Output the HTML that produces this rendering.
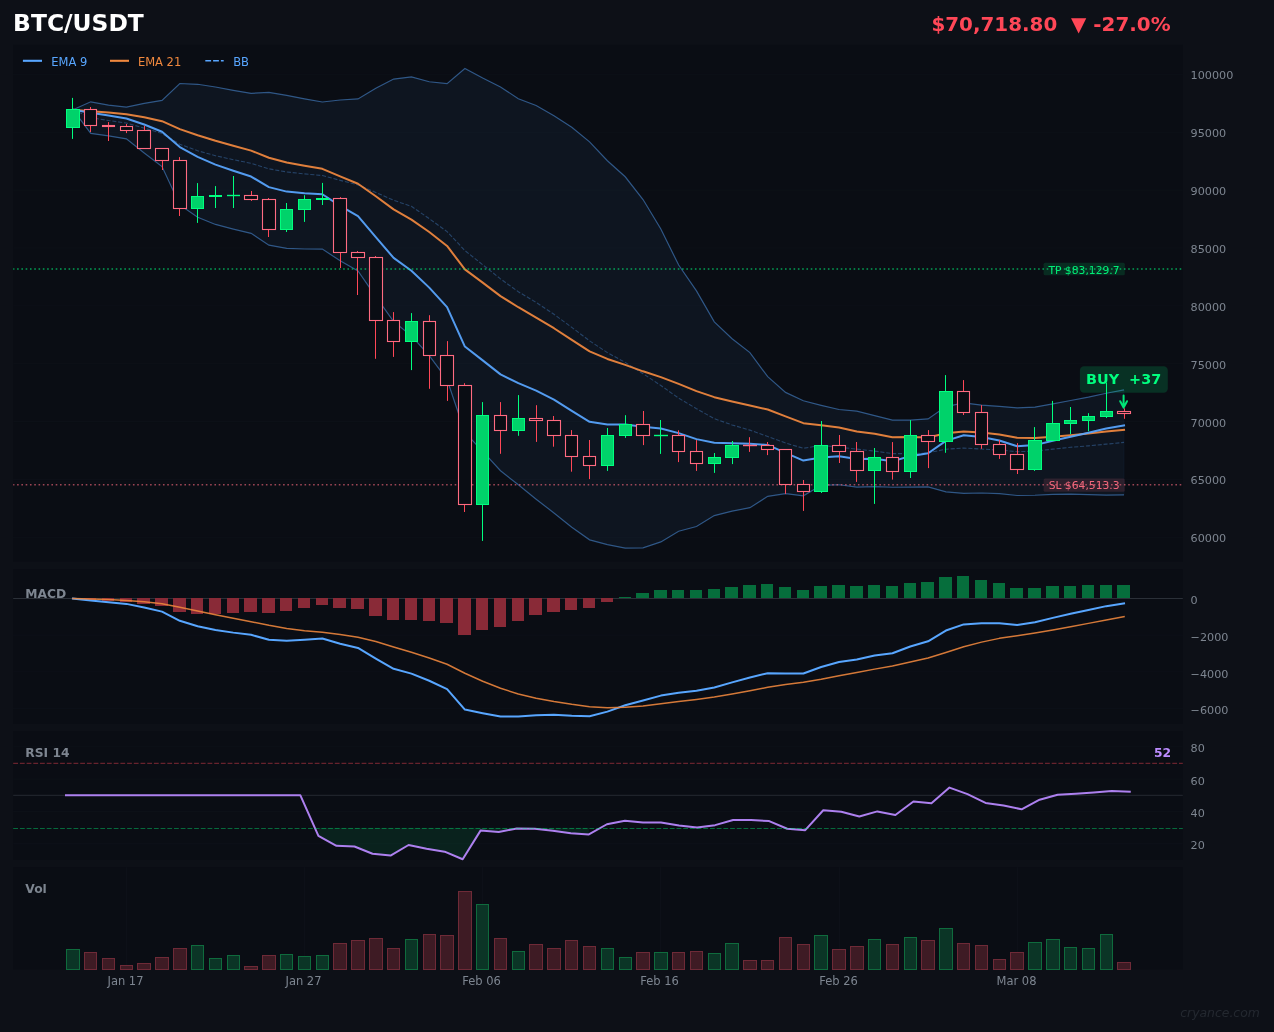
<!DOCTYPE html>
<html><head><meta charset="utf-8"><title>BTC/USDT</title>
<style>html,body{margin:0;padding:0;background:#0d1017;} svg{display:block} text{font-family:"DejaVu Sans","Liberation Sans",sans-serif}</style>
</head><body>
<svg width="1274" height="1032" viewBox="0 0 1274 1032">
<rect x="0" y="0" width="1274" height="1032" fill="#0d1017"/>
<rect x="13.2" y="44.9" width="1169.6" height="516.7" fill="#0a0d14"/>
<rect x="13.2" y="569.1" width="1169.6" height="154.9" fill="#0a0d14"/>
<rect x="13.2" y="731.2" width="1169.6" height="128.6" fill="#0a0d14"/>
<rect x="13.2" y="867.1" width="1169.6" height="102.3" fill="#0a0d14"/>
<line x1="13.2" x2="1182.8" y1="537.4" y2="537.4" stroke="#0e1219" stroke-width="0.8"/>
<line x1="1017.5" x2="1017.5" y1="867.1" y2="969.4" stroke="#0e1219" stroke-width="0.8"/>
<line x1="839.5" x2="839.5" y1="867.1" y2="969.4" stroke="#0e1219" stroke-width="0.8"/>
<line x1="660.5" x2="660.5" y1="867.1" y2="969.4" stroke="#0e1219" stroke-width="0.8"/>
<line x1="482.5" x2="482.5" y1="867.1" y2="969.4" stroke="#0e1219" stroke-width="0.8"/>
<line x1="304.5" x2="304.5" y1="867.1" y2="969.4" stroke="#0e1219" stroke-width="0.8"/>
<line x1="126.5" x2="126.5" y1="867.1" y2="969.4" stroke="#0e1219" stroke-width="0.8"/>
<line x1="13.2" x2="1182.8" y1="479.53" y2="479.53" stroke="#0e1219" stroke-width="0.8"/>
<line x1="13.2" x2="1182.8" y1="421.65" y2="421.65" stroke="#0e1219" stroke-width="0.8"/>
<line x1="13.2" x2="1182.8" y1="363.78" y2="363.78" stroke="#0e1219" stroke-width="0.8"/>
<line x1="13.2" x2="1182.8" y1="305.9" y2="305.9" stroke="#0e1219" stroke-width="0.8"/>
<line x1="13.2" x2="1182.8" y1="248.03" y2="248.03" stroke="#0e1219" stroke-width="0.8"/>
<line x1="13.2" x2="1182.8" y1="190.15" y2="190.15" stroke="#0e1219" stroke-width="0.8"/>
<line x1="13.2" x2="1182.8" y1="132.28" y2="132.28" stroke="#0e1219" stroke-width="0.8"/>
<line x1="13.2" x2="1182.8" y1="74.4" y2="74.4" stroke="#0e1219" stroke-width="0.8"/>
<polygon points="72.94,109.7 90.76,101.8 108.57,105.19 126.39,107.19 144.2,103.33 162.02,100.43 179.83,83.51 197.65,84.28 215.46,87.01 233.28,90.3 251.09,93.3 268.91,92.47 286.73,95.46 304.54,98.86 322.36,102.01 340.17,99.99 357.99,98.9 375.8,88.31 393.62,79.06 411.43,76.87 429.25,81.74 447.07,83.67 464.88,68.58 482.7,78.08 500.51,86.94 518.33,98.71 536.14,105.54 553.96,115.65 571.77,127.35 589.59,141.85 607.4,160.7 625.22,176.77 643.04,199.53 660.85,229.06 678.67,265.06 696.48,290.87 714.3,321.83 732.11,338.69 749.93,352.59 767.74,376.7 785.56,392.39 803.38,400.8 821.19,405.36 839.01,409.52 856.82,411.07 874.64,415.57 892.45,420.04 910.27,420.07 928.08,418.93 945.9,406.56 963.71,402.84 981.53,405.09 999.35,406.45 1017.16,407.9 1034.98,407.05 1052.79,403.85 1070.61,400.52 1088.42,397.18 1106.24,393.24 1124.05,389.79 1124.05,494.92 1106.24,495.08 1088.42,494.54 1070.61,494.09 1052.79,494.46 1034.98,495.23 1017.16,495.51 999.35,493.57 981.53,493.01 963.71,493.28 945.9,491.85 928.08,486.87 910.27,487.22 892.45,487.24 874.64,486.61 856.82,487.21 839.01,484.76 821.19,485.33 803.38,495.77 785.56,493.57 767.74,496.36 749.93,507.7 732.11,511.18 714.3,515.55 696.48,526.49 678.67,531.24 660.85,541.94 643.04,547.87 625.22,548.04 607.4,544.6 589.59,539.86 571.77,527.34 553.96,512.96 536.14,499.18 518.33,484.81 500.51,470.77 482.7,451.45 464.88,432.45 447.07,379.59 429.25,355.53 411.43,335.82 393.62,321.48 375.8,296.56 357.99,270.91 340.17,260.76 322.36,249.1 304.54,248.98 286.73,248.44 268.91,245.18 251.09,233.33 233.28,229.08 215.46,224.44 197.65,217.21 179.83,204.92 162.02,166.6 144.2,152.91 126.39,138.89 108.57,135.91 90.76,133.4 72.94,109.7" fill="#58a6ff" fill-opacity="0.055" stroke="#58a6ff" stroke-opacity="0.05" stroke-width="1"/>
<polyline points="72.94,109.7 90.76,101.8 108.57,105.19 126.39,107.19 144.2,103.33 162.02,100.43 179.83,83.51 197.65,84.28 215.46,87.01 233.28,90.3 251.09,93.3 268.91,92.47 286.73,95.46 304.54,98.86 322.36,102.01 340.17,99.99 357.99,98.9 375.8,88.31 393.62,79.06 411.43,76.87 429.25,81.74 447.07,83.67 464.88,68.58 482.7,78.08 500.51,86.94 518.33,98.71 536.14,105.54 553.96,115.65 571.77,127.35 589.59,141.85 607.4,160.7 625.22,176.77 643.04,199.53 660.85,229.06 678.67,265.06 696.48,290.87 714.3,321.83 732.11,338.69 749.93,352.59 767.74,376.7 785.56,392.39 803.38,400.8 821.19,405.36 839.01,409.52 856.82,411.07 874.64,415.57 892.45,420.04 910.27,420.07 928.08,418.93 945.9,406.56 963.71,402.84 981.53,405.09 999.35,406.45 1017.16,407.9 1034.98,407.05 1052.79,403.85 1070.61,400.52 1088.42,397.18 1106.24,393.24 1124.05,389.79" fill="none" stroke="#58a6ff" stroke-opacity="0.45" stroke-width="1.2"/>
<polyline points="72.94,109.7 90.76,133.4 108.57,135.91 126.39,138.89 144.2,152.91 162.02,166.6 179.83,204.92 197.65,217.21 215.46,224.44 233.28,229.08 251.09,233.33 268.91,245.18 286.73,248.44 304.54,248.98 322.36,249.1 340.17,260.76 357.99,270.91 375.8,296.56 393.62,321.48 411.43,335.82 429.25,355.53 447.07,379.59 464.88,432.45 482.7,451.45 500.51,470.77 518.33,484.81 536.14,499.18 553.96,512.96 571.77,527.34 589.59,539.86 607.4,544.6 625.22,548.04 643.04,547.87 660.85,541.94 678.67,531.24 696.48,526.49 714.3,515.55 732.11,511.18 749.93,507.7 767.74,496.36 785.56,493.57 803.38,495.77 821.19,485.33 839.01,484.76 856.82,487.21 874.64,486.61 892.45,487.24 910.27,487.22 928.08,486.87 945.9,491.85 963.71,493.28 981.53,493.01 999.35,493.57 1017.16,495.51 1034.98,495.23 1052.79,494.46 1070.61,494.09 1088.42,494.54 1106.24,495.08 1124.05,494.92" fill="none" stroke="#58a6ff" stroke-opacity="0.45" stroke-width="1.2"/>
<polyline points="72.94,109.7 90.76,117.6 108.57,120.55 126.39,123.04 144.2,128.12 162.02,133.52 179.83,144.21 197.65,150.74 215.46,155.73 233.28,159.69 251.09,163.31 268.91,168.82 286.73,171.95 304.54,173.92 322.36,175.56 340.17,180.37 357.99,184.91 375.8,192.44 393.62,200.27 411.43,206.35 429.25,218.64 447.07,231.63 464.88,250.52 482.7,264.76 500.51,278.86 518.33,291.76 536.14,302.36 553.96,314.31 571.77,327.35 589.59,340.85 607.4,352.65 625.22,362.4 643.04,373.7 660.85,385.5 678.67,398.15 696.48,408.68 714.3,418.69 732.11,424.94 749.93,430.14 767.74,436.53 785.56,442.98 803.38,448.29 821.19,445.35 839.01,447.14 856.82,449.14 874.64,451.09 892.45,453.64 910.27,453.65 928.08,452.9 945.9,449.21 963.71,448.06 981.53,449.05 999.35,450.01 1017.16,451.7 1034.98,451.14 1052.79,449.16 1070.61,447.3 1088.42,445.86 1106.24,444.16 1124.05,442.36" fill="none" stroke="#58a6ff" stroke-opacity="0.32" stroke-width="1.1" stroke-dasharray="4.1 1.8"/>
<polyline points="72.94,109.7 90.76,111.14 108.57,112.53 126.39,114.16 144.2,117.28 162.02,121.21 179.83,129.13 197.65,135.25 215.46,140.74 233.28,145.7 251.09,150.6 268.91,157.77 286.73,162.47 304.54,165.83 322.36,168.8 340.17,176.42 357.99,183.79 375.8,196.21 393.62,209.4 411.43,219.62 429.25,231.97 447.07,245.92 464.88,269.39 482.7,282.67 500.51,296.09 518.33,307.23 536.14,317.51 553.96,328.23 571.77,339.88 589.59,351.3 607.4,358.95 625.22,364.91 643.04,371.32 660.85,377.16 678.67,383.92 696.48,391.13 714.3,397.16 732.11,401.55 749.93,405.54 767.74,409.55 785.56,416.35 803.38,423.19 821.19,425.2 839.01,427.58 856.82,431.46 874.64,433.84 892.45,437.24 910.27,437.09 928.08,437.49 945.9,433.31 963.71,431.43 981.53,432.61 999.35,434.6 1017.16,437.76 1034.98,438 1052.79,436.67 1070.61,435.2 1088.42,433.5 1106.24,431.51 1124.05,429.86" fill="none" stroke="#f0883e" stroke-opacity="0.93" stroke-width="2.0" stroke-linejoin="round" stroke-linecap="square"/>
<polyline points="72.94,109.7 90.76,112.86 108.57,115.58 126.39,118.56 144.2,124.54 162.02,131.73 179.83,147.07 197.65,156.94 215.46,164.67 233.28,170.81 251.09,176.56 268.91,187.14 286.73,191.6 304.54,193.18 322.36,194.24 340.17,205.91 357.99,216.22 375.8,237.07 393.62,257.91 411.43,270.69 429.25,287.65 447.07,307.2 464.88,346.58 482.7,360.37 500.51,374.35 518.33,383.19 536.14,390.63 553.96,399.59 571.77,410.94 589.59,421.85 607.4,424.58 625.22,424.56 643.04,426.72 660.85,428.49 678.67,433.1 696.48,439.12 714.3,442.81 732.11,443.32 749.93,443.76 767.74,444.92 785.56,452.82 803.38,460.56 821.19,457.52 839.01,456.28 856.82,459.09 874.64,458.79 892.45,461.29 910.27,456.15 928.08,453.2 945.9,440.88 963.71,435.22 981.53,437.05 999.35,440.55 1017.16,446.32 1034.98,445.12 1052.79,440.78 1070.61,436.73 1088.42,432.68 1106.24,428.47 1124.05,425.45" fill="none" stroke="#58a6ff" stroke-opacity="0.93" stroke-width="2.0" stroke-linejoin="round" stroke-linecap="square"/>
<rect x="1043.6" y="262.8" width="81.2" height="12.5" rx="1.5" fill="#00ff7f" fill-opacity="0.13"/>
<text x="1119.6" y="273.6" font-size="10.75" fill="#00ff7f" fill-opacity="0.92" text-anchor="end">TP $83,129.7</text>
<rect x="1043.6" y="478.4" width="81.2" height="13.4" rx="1.5" fill="#ff6b81" fill-opacity="0.13"/>
<text x="1119.6" y="489.3" font-size="10.75" fill="#ff6b81" fill-opacity="0.95" text-anchor="end">SL $64,513.3</text>
<rect x="1079.9" y="366.3" width="87.9" height="26.4" rx="4.2" fill="#00ff7f" fill-opacity="0.15"/>
<text x="1086.0" y="383.7" font-size="14.4" font-weight="bold" fill="#00ff7f" xml:space="preserve" style="white-space:pre">BUY  +37</text>
<line x1="13.2" x2="1182.8" y1="268.95" y2="268.95" stroke="#00ff7f" stroke-opacity="0.6" stroke-width="1.5" stroke-dasharray="1.6 2.69" stroke-dashoffset="0.4"/>
<line x1="13.2" x2="1182.8" y1="484.85" y2="484.85" stroke="#ff6b81" stroke-opacity="0.6" stroke-width="1.5" stroke-dasharray="1.6 2.69" stroke-dashoffset="0.4"/>
<line x1="72.5" x2="72.5" y1="97.9" y2="138.9" stroke="#00ff7f" stroke-width="1"/>
<rect x="66.5" y="109.5" width="13" height="18" fill="#00d26a" stroke="#00ff7f" stroke-width="1"/>
<line x1="90.5" x2="90.5" y1="107" y2="132" stroke="#ff4757" stroke-width="1"/>
<rect x="84.5" y="109.5" width="12" height="16" fill="#0a0d14" stroke="#ff6b81" stroke-width="1.1"/>
<line x1="108.5" x2="108.5" y1="122.1" y2="141" stroke="#ff4757" stroke-width="1"/>
<rect x="102.5" y="125.5" width="12" height="1" fill="#0a0d14" stroke="#ff6b81" stroke-width="1.1"/>
<line x1="126.5" x2="126.5" y1="124" y2="133.1" stroke="#ff4757" stroke-width="1"/>
<rect x="120.5" y="126.5" width="12" height="4" fill="#0a0d14" stroke="#ff6b81" stroke-width="1.1"/>
<line x1="144.5" x2="144.5" y1="125.9" y2="148.7" stroke="#ff4757" stroke-width="1"/>
<rect x="137.5" y="130.5" width="13" height="18" fill="#0a0d14" stroke="#ff6b81" stroke-width="1.1"/>
<line x1="162.5" x2="162.5" y1="148.2" y2="170" stroke="#ff4757" stroke-width="1"/>
<rect x="155.5" y="148.5" width="13" height="12" fill="#0a0d14" stroke="#ff6b81" stroke-width="1.1"/>
<line x1="179.5" x2="179.5" y1="157.1" y2="216" stroke="#ff4757" stroke-width="1"/>
<rect x="173.5" y="160.5" width="13" height="48" fill="#0a0d14" stroke="#ff6b81" stroke-width="1.1"/>
<line x1="197.5" x2="197.5" y1="183.1" y2="222.9" stroke="#00ff7f" stroke-width="1"/>
<rect x="191.5" y="196.5" width="12" height="12" fill="#00d26a" stroke="#00ff7f" stroke-width="1"/>
<line x1="215.5" x2="215.5" y1="186.1" y2="208" stroke="#00ff7f" stroke-width="1"/>
<rect x="209.5" y="195.5" width="12" height="1" fill="#00d26a" stroke="#00ff7f" stroke-width="1"/>
<line x1="233.5" x2="233.5" y1="176" y2="208" stroke="#00ff7f" stroke-width="1"/>
<line x1="227" x2="240" y1="195.5" y2="195.5" stroke="#00ff7f" stroke-width="1.4"/>
<line x1="251.5" x2="251.5" y1="191" y2="200.9" stroke="#ff4757" stroke-width="1"/>
<rect x="244.5" y="195.5" width="13" height="4" fill="#0a0d14" stroke="#ff6b81" stroke-width="1.1"/>
<line x1="268.5" x2="268.5" y1="198" y2="237" stroke="#ff4757" stroke-width="1"/>
<rect x="262.5" y="199.5" width="13" height="30" fill="#0a0d14" stroke="#ff6b81" stroke-width="1.1"/>
<line x1="286.5" x2="286.5" y1="203" y2="232" stroke="#00ff7f" stroke-width="1"/>
<rect x="280.5" y="209.5" width="12" height="20" fill="#00d26a" stroke="#00ff7f" stroke-width="1"/>
<line x1="304.5" x2="304.5" y1="195.2" y2="221.9" stroke="#00ff7f" stroke-width="1"/>
<rect x="298.5" y="199.5" width="12" height="10" fill="#00d26a" stroke="#00ff7f" stroke-width="1"/>
<line x1="322.5" x2="322.5" y1="182.9" y2="205" stroke="#00ff7f" stroke-width="1"/>
<rect x="316.5" y="198.5" width="12" height="1" fill="#00d26a" stroke="#00ff7f" stroke-width="1"/>
<line x1="340.5" x2="340.5" y1="197.1" y2="268" stroke="#ff4757" stroke-width="1"/>
<rect x="333.5" y="198.5" width="13" height="54" fill="#0a0d14" stroke="#ff6b81" stroke-width="1.1"/>
<line x1="357.5" x2="357.5" y1="251" y2="295" stroke="#ff4757" stroke-width="1"/>
<rect x="351.5" y="252.5" width="13" height="5" fill="#0a0d14" stroke="#ff6b81" stroke-width="1.1"/>
<line x1="375.5" x2="375.5" y1="256" y2="358.8" stroke="#ff4757" stroke-width="1"/>
<rect x="369.5" y="257.5" width="13" height="63" fill="#0a0d14" stroke="#ff6b81" stroke-width="1.1"/>
<line x1="393.5" x2="393.5" y1="312.1" y2="356.9" stroke="#ff4757" stroke-width="1"/>
<rect x="387.5" y="320.5" width="12" height="21" fill="#0a0d14" stroke="#ff6b81" stroke-width="1.1"/>
<line x1="411.5" x2="411.5" y1="313.1" y2="370.1" stroke="#00ff7f" stroke-width="1"/>
<rect x="405.5" y="321.5" width="12" height="20" fill="#00d26a" stroke="#00ff7f" stroke-width="1"/>
<line x1="429.5" x2="429.5" y1="315.2" y2="388.8" stroke="#ff4757" stroke-width="1"/>
<rect x="423.5" y="321.5" width="12" height="34" fill="#0a0d14" stroke="#ff6b81" stroke-width="1.1"/>
<line x1="447.5" x2="447.5" y1="341.1" y2="400.9" stroke="#ff4757" stroke-width="1"/>
<rect x="440.5" y="355.5" width="13" height="30" fill="#0a0d14" stroke="#ff6b81" stroke-width="1.1"/>
<line x1="464.5" x2="464.5" y1="383.2" y2="512" stroke="#ff4757" stroke-width="1"/>
<rect x="458.5" y="385.5" width="13" height="119" fill="#0a0d14" stroke="#ff6b81" stroke-width="1.1"/>
<line x1="482.5" x2="482.5" y1="402.1" y2="540.9" stroke="#00ff7f" stroke-width="1"/>
<rect x="476.5" y="415.5" width="12" height="89" fill="#00d26a" stroke="#00ff7f" stroke-width="1"/>
<line x1="500.5" x2="500.5" y1="402.1" y2="453.8" stroke="#ff4757" stroke-width="1"/>
<rect x="494.5" y="415.5" width="12" height="15" fill="#0a0d14" stroke="#ff6b81" stroke-width="1.1"/>
<line x1="518.5" x2="518.5" y1="395.1" y2="435.8" stroke="#00ff7f" stroke-width="1"/>
<rect x="512.5" y="418.5" width="12" height="12" fill="#00d26a" stroke="#00ff7f" stroke-width="1"/>
<line x1="536.5" x2="536.5" y1="405.2" y2="441.9" stroke="#ff4757" stroke-width="1"/>
<rect x="529.5" y="418.5" width="13" height="2" fill="#0a0d14" stroke="#ff6b81" stroke-width="1.1"/>
<line x1="553.5" x2="553.5" y1="416" y2="446.7" stroke="#ff4757" stroke-width="1"/>
<rect x="547.5" y="420.5" width="13" height="15" fill="#0a0d14" stroke="#ff6b81" stroke-width="1.1"/>
<line x1="571.5" x2="571.5" y1="430.1" y2="471.7" stroke="#ff4757" stroke-width="1"/>
<rect x="565.5" y="435.5" width="12" height="21" fill="#0a0d14" stroke="#ff6b81" stroke-width="1.1"/>
<line x1="589.5" x2="589.5" y1="440" y2="479.1" stroke="#ff4757" stroke-width="1"/>
<rect x="583.5" y="456.5" width="12" height="9" fill="#0a0d14" stroke="#ff6b81" stroke-width="1.1"/>
<line x1="607.5" x2="607.5" y1="428" y2="470.9" stroke="#00ff7f" stroke-width="1"/>
<rect x="601.5" y="435.5" width="12" height="30" fill="#00d26a" stroke="#00ff7f" stroke-width="1"/>
<line x1="625.5" x2="625.5" y1="415.2" y2="437.9" stroke="#00ff7f" stroke-width="1"/>
<rect x="619.5" y="424.5" width="12" height="11" fill="#00d26a" stroke="#00ff7f" stroke-width="1"/>
<line x1="643.5" x2="643.5" y1="411" y2="445.1" stroke="#ff4757" stroke-width="1"/>
<rect x="636.5" y="424.5" width="13" height="11" fill="#0a0d14" stroke="#ff6b81" stroke-width="1.1"/>
<line x1="660.5" x2="660.5" y1="420" y2="453.9" stroke="#00ff7f" stroke-width="1"/>
<line x1="654" x2="668" y1="435.5" y2="435.5" stroke="#00ff7f" stroke-width="1.4"/>
<line x1="678.5" x2="678.5" y1="430.3" y2="462.1" stroke="#ff4757" stroke-width="1"/>
<rect x="672.5" y="435.5" width="12" height="16" fill="#0a0d14" stroke="#ff6b81" stroke-width="1.1"/>
<line x1="696.5" x2="696.5" y1="440.1" y2="470.9" stroke="#ff4757" stroke-width="1"/>
<rect x="690.5" y="451.5" width="12" height="12" fill="#0a0d14" stroke="#ff6b81" stroke-width="1.1"/>
<line x1="714.5" x2="714.5" y1="453" y2="472.9" stroke="#00ff7f" stroke-width="1"/>
<rect x="708.5" y="457.5" width="12" height="6" fill="#00d26a" stroke="#00ff7f" stroke-width="1"/>
<line x1="732.5" x2="732.5" y1="441" y2="464.1" stroke="#00ff7f" stroke-width="1"/>
<rect x="725.5" y="445.5" width="13" height="12" fill="#00d26a" stroke="#00ff7f" stroke-width="1"/>
<line x1="749.5" x2="749.5" y1="437.2" y2="451.9" stroke="#ff4757" stroke-width="1"/>
<line x1="743" x2="757" y1="445.5" y2="445.5" stroke="#ff6b81" stroke-width="1.4"/>
<line x1="767.5" x2="767.5" y1="442" y2="455.1" stroke="#ff4757" stroke-width="1"/>
<rect x="761.5" y="445.5" width="12" height="4" fill="#0a0d14" stroke="#ff6b81" stroke-width="1.1"/>
<line x1="785.5" x2="785.5" y1="449.1" y2="493.9" stroke="#ff4757" stroke-width="1"/>
<rect x="779.5" y="449.5" width="12" height="35" fill="#0a0d14" stroke="#ff6b81" stroke-width="1.1"/>
<line x1="803.5" x2="803.5" y1="480" y2="510.9" stroke="#ff4757" stroke-width="1"/>
<rect x="797.5" y="484.5" width="12" height="7" fill="#0a0d14" stroke="#ff6b81" stroke-width="1.1"/>
<line x1="821.5" x2="821.5" y1="421" y2="493" stroke="#00ff7f" stroke-width="1"/>
<rect x="814.5" y="445.5" width="13" height="46" fill="#00d26a" stroke="#00ff7f" stroke-width="1"/>
<line x1="839.5" x2="839.5" y1="435" y2="463" stroke="#ff4757" stroke-width="1"/>
<rect x="832.5" y="445.5" width="13" height="6" fill="#0a0d14" stroke="#ff6b81" stroke-width="1.1"/>
<line x1="856.5" x2="856.5" y1="442" y2="481.9" stroke="#ff4757" stroke-width="1"/>
<rect x="850.5" y="451.5" width="13" height="19" fill="#0a0d14" stroke="#ff6b81" stroke-width="1.1"/>
<line x1="874.5" x2="874.5" y1="448" y2="503.9" stroke="#00ff7f" stroke-width="1"/>
<rect x="868.5" y="457.5" width="12" height="13" fill="#00d26a" stroke="#00ff7f" stroke-width="1"/>
<line x1="892.5" x2="892.5" y1="442.1" y2="479.6" stroke="#ff4757" stroke-width="1"/>
<rect x="886.5" y="457.5" width="12" height="14" fill="#0a0d14" stroke="#ff6b81" stroke-width="1.1"/>
<line x1="910.5" x2="910.5" y1="420.1" y2="478" stroke="#00ff7f" stroke-width="1"/>
<rect x="904.5" y="435.5" width="12" height="36" fill="#00d26a" stroke="#00ff7f" stroke-width="1"/>
<line x1="928.5" x2="928.5" y1="430.1" y2="468.1" stroke="#ff4757" stroke-width="1"/>
<rect x="921.5" y="435.5" width="13" height="6" fill="#0a0d14" stroke="#ff6b81" stroke-width="1.1"/>
<line x1="945.5" x2="945.5" y1="375.1" y2="452.8" stroke="#00ff7f" stroke-width="1"/>
<rect x="939.5" y="391.5" width="13" height="50" fill="#00d26a" stroke="#00ff7f" stroke-width="1"/>
<line x1="963.5" x2="963.5" y1="380.1" y2="415" stroke="#ff4757" stroke-width="1"/>
<rect x="957.5" y="391.5" width="12" height="21" fill="#0a0d14" stroke="#ff6b81" stroke-width="1.1"/>
<line x1="981.5" x2="981.5" y1="405.1" y2="448.8" stroke="#ff4757" stroke-width="1"/>
<rect x="975.5" y="412.5" width="12" height="32" fill="#0a0d14" stroke="#ff6b81" stroke-width="1.1"/>
<line x1="999.5" x2="999.5" y1="440" y2="458.9" stroke="#ff4757" stroke-width="1"/>
<rect x="993.5" y="444.5" width="12" height="10" fill="#0a0d14" stroke="#ff6b81" stroke-width="1.1"/>
<line x1="1017.5" x2="1017.5" y1="443.1" y2="474" stroke="#ff4757" stroke-width="1"/>
<rect x="1010.5" y="454.5" width="13" height="15" fill="#0a0d14" stroke="#ff6b81" stroke-width="1.1"/>
<line x1="1034.5" x2="1034.5" y1="427.1" y2="470.9" stroke="#00ff7f" stroke-width="1"/>
<rect x="1028.5" y="440.5" width="13" height="29" fill="#00d26a" stroke="#00ff7f" stroke-width="1"/>
<line x1="1052.5" x2="1052.5" y1="400.9" y2="441.3" stroke="#00ff7f" stroke-width="1"/>
<rect x="1046.5" y="423.5" width="13" height="17" fill="#00d26a" stroke="#00ff7f" stroke-width="1"/>
<line x1="1070.5" x2="1070.5" y1="407" y2="434.1" stroke="#00ff7f" stroke-width="1"/>
<rect x="1064.5" y="420.5" width="12" height="3" fill="#00d26a" stroke="#00ff7f" stroke-width="1"/>
<line x1="1088.5" x2="1088.5" y1="413.2" y2="431.2" stroke="#00ff7f" stroke-width="1"/>
<rect x="1082.5" y="416.5" width="12" height="4" fill="#00d26a" stroke="#00ff7f" stroke-width="1"/>
<line x1="1106.5" x2="1106.5" y1="382.7" y2="418" stroke="#00ff7f" stroke-width="1"/>
<rect x="1100.5" y="411.5" width="12" height="5" fill="#00d26a" stroke="#00ff7f" stroke-width="1"/>
<line x1="1124.5" x2="1124.5" y1="408.3" y2="418.8" stroke="#ff4757" stroke-width="1"/>
<rect x="1117.5" y="411.5" width="13" height="2" fill="#0a0d14" stroke="#ff6b81" stroke-width="1.1"/>
<path d="M1123.6,395.6 L1123.6,407.2 M1120.2,401.2 L1123.6,407.6 L1127.0,401.2" fill="none" stroke="#00e676" stroke-width="2" stroke-linecap="round" stroke-linejoin="round"/>
<line x1="22.9" x2="42" y1="60.8" y2="60.8" stroke="#58a6ff" stroke-width="2.1"/>
<text x="51.2" y="66" font-size="11.5" fill="#58a6ff">EMA 9</text>
<line x1="110" x2="129" y1="60.8" y2="60.8" stroke="#f0883e" stroke-width="2.1"/>
<text x="137.9" y="66" font-size="11.5" fill="#f0883e">EMA 21</text>
<line x1="205.3" x2="223.7" y1="60.8" y2="60.8" stroke="#58a6ff" stroke-width="1.6" stroke-dasharray="5.8 2"/>
<text x="233.2" y="66" font-size="11.5" fill="#58a6ff">BB</text>
<text x="1190.6" y="542.3" font-size="11.2" fill="#7d8590">60000</text>
<text x="1190.6" y="484.43" font-size="11.2" fill="#7d8590">65000</text>
<text x="1190.6" y="426.55" font-size="11.2" fill="#7d8590">70000</text>
<text x="1190.6" y="368.68" font-size="11.2" fill="#7d8590">75000</text>
<text x="1190.6" y="310.8" font-size="11.2" fill="#7d8590">80000</text>
<text x="1190.6" y="252.93" font-size="11.2" fill="#7d8590">85000</text>
<text x="1190.6" y="195.05" font-size="11.2" fill="#7d8590">90000</text>
<text x="1190.6" y="137.18" font-size="11.2" fill="#7d8590">95000</text>
<text x="1190.6" y="79.3" font-size="11.2" fill="#7d8590">100000</text>
<line x1="13.2" x2="1182.8" y1="708.6" y2="708.6" stroke="#0e1219" stroke-width="0.8"/>
<line x1="13.2" x2="1182.8" y1="671.9" y2="671.9" stroke="#0e1219" stroke-width="0.8"/>
<line x1="13.2" x2="1182.8" y1="635.2" y2="635.2" stroke="#0e1219" stroke-width="0.8"/>
<line x1="13.2" x2="1182.8" y1="598.5" y2="598.5" stroke="#2b3038" stroke-width="1"/>
<rect x="84" y="598" width="12" height="2" fill="#892a37"/>
<rect x="102" y="598" width="12" height="3" fill="#892a37"/>
<rect x="120" y="598" width="12" height="4" fill="#892a37"/>
<rect x="137" y="598" width="13" height="6" fill="#892a37"/>
<rect x="155" y="598" width="13" height="8" fill="#892a37"/>
<rect x="173" y="598" width="13" height="14" fill="#892a37"/>
<rect x="191" y="598" width="12" height="16" fill="#892a37"/>
<rect x="209" y="598" width="12" height="16" fill="#892a37"/>
<rect x="227" y="598" width="12" height="15" fill="#892a37"/>
<rect x="244" y="598" width="13" height="14" fill="#892a37"/>
<rect x="262" y="598" width="13" height="15" fill="#892a37"/>
<rect x="280" y="598" width="12" height="13" fill="#892a37"/>
<rect x="298" y="598" width="12" height="10" fill="#892a37"/>
<rect x="316" y="598" width="12" height="7" fill="#892a37"/>
<rect x="333" y="598" width="13" height="10" fill="#892a37"/>
<rect x="351" y="598" width="13" height="11" fill="#892a37"/>
<rect x="369" y="598" width="13" height="18" fill="#892a37"/>
<rect x="387" y="598" width="12" height="22" fill="#892a37"/>
<rect x="405" y="598" width="12" height="22" fill="#892a37"/>
<rect x="423" y="598" width="12" height="23" fill="#892a37"/>
<rect x="440" y="598" width="13" height="25" fill="#892a37"/>
<rect x="458" y="598" width="13" height="37" fill="#892a37"/>
<rect x="476" y="598" width="12" height="32" fill="#892a37"/>
<rect x="494" y="598" width="12" height="29" fill="#892a37"/>
<rect x="512" y="598" width="12" height="23" fill="#892a37"/>
<rect x="529" y="598" width="13" height="17" fill="#892a37"/>
<rect x="547" y="598" width="13" height="14" fill="#892a37"/>
<rect x="565" y="598" width="12" height="12" fill="#892a37"/>
<rect x="583" y="598" width="12" height="10" fill="#892a37"/>
<rect x="601" y="598" width="12" height="4" fill="#892a37"/>
<rect x="619" y="597" width="12" height="1" fill="#066e3c"/>
<rect x="636" y="593" width="13" height="5" fill="#066e3c"/>
<rect x="654" y="590" width="13" height="8" fill="#066e3c"/>
<rect x="672" y="590" width="12" height="8" fill="#066e3c"/>
<rect x="690" y="590" width="12" height="8" fill="#066e3c"/>
<rect x="708" y="589" width="12" height="9" fill="#066e3c"/>
<rect x="725" y="587" width="13" height="11" fill="#066e3c"/>
<rect x="743" y="585" width="13" height="13" fill="#066e3c"/>
<rect x="761" y="584" width="12" height="14" fill="#066e3c"/>
<rect x="779" y="587" width="12" height="11" fill="#066e3c"/>
<rect x="797" y="590" width="12" height="8" fill="#066e3c"/>
<rect x="814" y="586" width="13" height="12" fill="#066e3c"/>
<rect x="832" y="585" width="13" height="13" fill="#066e3c"/>
<rect x="850" y="586" width="13" height="12" fill="#066e3c"/>
<rect x="868" y="585" width="12" height="13" fill="#066e3c"/>
<rect x="886" y="586" width="12" height="12" fill="#066e3c"/>
<rect x="904" y="583" width="12" height="15" fill="#066e3c"/>
<rect x="921" y="582" width="13" height="16" fill="#066e3c"/>
<rect x="939" y="577" width="13" height="21" fill="#066e3c"/>
<rect x="957" y="576" width="12" height="22" fill="#066e3c"/>
<rect x="975" y="580" width="12" height="18" fill="#066e3c"/>
<rect x="993" y="583" width="12" height="15" fill="#066e3c"/>
<rect x="1010" y="588" width="13" height="10" fill="#066e3c"/>
<rect x="1028" y="588" width="13" height="10" fill="#066e3c"/>
<rect x="1046" y="586" width="13" height="12" fill="#066e3c"/>
<rect x="1064" y="586" width="12" height="12" fill="#066e3c"/>
<rect x="1082" y="585" width="12" height="13" fill="#066e3c"/>
<rect x="1100" y="585" width="12" height="13" fill="#066e3c"/>
<rect x="1117" y="585" width="13" height="13" fill="#066e3c"/>
<polyline points="72.94,598.5 90.76,600.48 108.57,602.13 126.39,603.88 144.2,607.45 162.02,611.65 179.83,620.79 197.65,626.2 215.46,630.02 233.28,632.62 251.09,634.8 268.91,639.83 286.73,640.8 304.54,639.83 322.36,638.48 340.17,643.74 357.99,647.95 375.8,658.58 393.62,668.84 411.43,673.63 429.25,680.75 447.07,689.14 464.88,709.55 482.7,713.17 500.51,716.56 518.33,716.4 536.14,715.16 553.96,714.73 571.77,715.7 589.59,716.27 607.4,711.62 625.22,705.31 643.04,700.5 660.85,695.6 678.67,692.66 696.48,690.74 714.3,687.48 732.11,682.39 749.93,677.45 767.74,673.2 785.56,673.38 803.38,673.56 821.19,667.06 839.01,661.94 856.82,659.58 874.64,655.44 892.45,653.26 910.27,646.46 928.08,641.32 945.9,630.56 963.71,624.38 981.53,623.24 999.35,623.34 1017.16,625 1034.98,622.34 1052.79,617.88 1070.61,613.8 1088.42,609.92 1106.24,606.14 1124.05,603.31" fill="none" stroke="#58a6ff" stroke-width="2" stroke-linejoin="round" stroke-linecap="square"/>
<polyline points="72.94,598.5 90.76,598.9 108.57,599.54 126.39,600.41 144.2,601.82 162.02,603.78 179.83,607.19 197.65,610.99 215.46,614.79 233.28,618.36 251.09,621.65 268.91,625.28 286.73,628.39 304.54,630.68 322.36,632.24 340.17,634.54 357.99,637.22 375.8,641.49 393.62,646.96 411.43,652.29 429.25,657.99 447.07,664.22 464.88,673.28 482.7,681.26 500.51,688.32 518.33,693.93 536.14,698.18 553.96,701.49 571.77,704.33 589.59,706.72 607.4,707.7 625.22,707.22 643.04,705.88 660.85,703.82 678.67,701.59 696.48,699.42 714.3,697.03 732.11,694.1 749.93,690.77 767.74,687.26 785.56,684.48 803.38,682.3 821.19,679.25 839.01,675.79 856.82,672.55 874.64,669.12 892.45,665.95 910.27,662.05 928.08,657.91 945.9,652.44 963.71,646.83 981.53,642.11 999.35,638.36 1017.16,635.68 1034.98,633.02 1052.79,629.99 1070.61,626.75 1088.42,623.38 1106.24,619.94 1124.05,616.61" fill="none" stroke="#f0883e" stroke-width="1.5" stroke-opacity="0.88" stroke-linejoin="round" stroke-linecap="square"/>
<text x="25.3" y="598.1" font-size="12.3" font-weight="bold" fill="#7d8590">MACD</text>
<text x="1190.6" y="604.1" font-size="11.2" fill="#7d8590">0</text>
<text x="1190.6" y="640.8" font-size="11.2" fill="#7d8590">−2000</text>
<text x="1190.6" y="677.5" font-size="11.2" fill="#7d8590">−4000</text>
<text x="1190.6" y="714.2" font-size="11.2" fill="#7d8590">−6000</text>
<line x1="13.2" x2="1182.8" y1="843.75" y2="843.75" stroke="#0e1219" stroke-width="0.8"/>
<line x1="13.2" x2="1182.8" y1="811.45" y2="811.45" stroke="#0e1219" stroke-width="0.8"/>
<line x1="13.2" x2="1182.8" y1="779.15" y2="779.15" stroke="#0e1219" stroke-width="0.8"/>
<line x1="13.2" x2="1182.8" y1="746.85" y2="746.85" stroke="#0e1219" stroke-width="0.8"/>
<line x1="13.2" x2="1182.8" y1="795.3" y2="795.3" stroke="#252a31" stroke-width="1"/>
<polygon points="318.42,835.86 336.45,845.82 354.48,846.53 372.51,853.8 390.54,855.6 408.57,844.99 426.6,848.8 444.63,851.66 462.66,859.22 480.69,830.38 498.72,831.96 516.75,828.58 534.78,828.81 552.81,830.73 570.84,833.34 588.87,834.47 588.87,827.7 318.42,827.7" fill="#00ff7f" fill-opacity="0.09"/>
<polygon points="787.2,828.74 805.23,830.13 805.23,827.7 787.2,827.7" fill="#00ff7f" fill-opacity="0.09"/>
<polyline points="66,795.3 84.03,795.3 102.06,795.3 120.09,795.3 138.12,795.3 156.15,795.3 174.18,795.3 192.21,795.3 210.24,795.3 228.27,795.3 246.3,795.3 264.33,795.3 282.36,795.3 300.39,795.3 318.42,835.86 336.45,845.82 354.48,846.53 372.51,853.8 390.54,855.6 408.57,844.99 426.6,848.8 444.63,851.66 462.66,859.22 480.69,830.38 498.72,831.96 516.75,828.58 534.78,828.81 552.81,830.73 570.84,833.34 588.87,834.47 606.9,824.25 624.93,820.68 642.96,822.53 660.99,822.57 679.02,825.46 697.05,827.51 715.08,825.16 733.11,820.08 751.14,820.11 769.17,821.08 787.2,828.74 805.23,830.13 823.26,810.28 841.29,811.83 859.32,816.58 877.35,811.41 895.38,815 913.41,801.44 931.44,803.16 949.47,787.58 967.5,794.11 985.53,802.94 1003.56,805.55 1021.59,809.3 1039.62,799.73 1057.65,794.69 1075.68,793.81 1093.71,792.55 1111.74,790.95 1129.77,791.63" fill="none" stroke="#ad80ef" stroke-width="2" stroke-linejoin="round" stroke-linecap="square"/>
<line x1="13.2" x2="1182.8" y1="763.4" y2="763.4" stroke="#ff4757" stroke-opacity="0.38" stroke-width="1.2" stroke-dasharray="4.8 1.9"/>
<line x1="13.2" x2="1182.8" y1="828.5" y2="828.5" stroke="#00ff7f" stroke-opacity="0.38" stroke-width="1.2" stroke-dasharray="4.8 1.9"/>
<text x="25.3" y="757.4" font-size="12.3" font-weight="bold" fill="#7d8590">RSI 14</text>
<text x="1171.0" y="757.3" font-size="12.3" font-weight="bold" fill="#bc8cff" text-anchor="end">52</text>
<text x="1190.6" y="849.35" font-size="11.2" fill="#7d8590">20</text>
<text x="1190.6" y="817.05" font-size="11.2" fill="#7d8590">40</text>
<text x="1190.6" y="784.75" font-size="11.2" fill="#7d8590">60</text>
<text x="1190.6" y="752.45" font-size="11.2" fill="#7d8590">80</text>
<rect x="66.5" y="949.5" width="13" height="20" fill="#0b3526" stroke="#0f6b3d" stroke-width="1"/>
<rect x="84.5" y="952.5" width="12" height="17" fill="#3e1b24" stroke="#6e2a37" stroke-width="1"/>
<rect x="102.5" y="958.5" width="12" height="11" fill="#3e1b24" stroke="#6e2a37" stroke-width="1"/>
<rect x="120.5" y="965.5" width="12" height="4" fill="#3e1b24" stroke="#6e2a37" stroke-width="1"/>
<rect x="137.5" y="963.5" width="13" height="6" fill="#3e1b24" stroke="#6e2a37" stroke-width="1"/>
<rect x="155.5" y="957.5" width="13" height="12" fill="#3e1b24" stroke="#6e2a37" stroke-width="1"/>
<rect x="173.5" y="948.5" width="13" height="21" fill="#3e1b24" stroke="#6e2a37" stroke-width="1"/>
<rect x="191.5" y="945.5" width="12" height="24" fill="#0b3526" stroke="#0f6b3d" stroke-width="1"/>
<rect x="209.5" y="958.5" width="12" height="11" fill="#0b3526" stroke="#0f6b3d" stroke-width="1"/>
<rect x="227.5" y="955.5" width="12" height="14" fill="#0b3526" stroke="#0f6b3d" stroke-width="1"/>
<rect x="244.5" y="966.5" width="13" height="3" fill="#3e1b24" stroke="#6e2a37" stroke-width="1"/>
<rect x="262.5" y="955.5" width="13" height="14" fill="#3e1b24" stroke="#6e2a37" stroke-width="1"/>
<rect x="280.5" y="954.5" width="12" height="15" fill="#0b3526" stroke="#0f6b3d" stroke-width="1"/>
<rect x="298.5" y="956.5" width="12" height="13" fill="#0b3526" stroke="#0f6b3d" stroke-width="1"/>
<rect x="316.5" y="955.5" width="12" height="14" fill="#0b3526" stroke="#0f6b3d" stroke-width="1"/>
<rect x="333.5" y="943.5" width="13" height="26" fill="#3e1b24" stroke="#6e2a37" stroke-width="1"/>
<rect x="351.5" y="940.5" width="13" height="29" fill="#3e1b24" stroke="#6e2a37" stroke-width="1"/>
<rect x="369.5" y="938.5" width="13" height="31" fill="#3e1b24" stroke="#6e2a37" stroke-width="1"/>
<rect x="387.5" y="948.5" width="12" height="21" fill="#3e1b24" stroke="#6e2a37" stroke-width="1"/>
<rect x="405.5" y="939.5" width="12" height="30" fill="#0b3526" stroke="#0f6b3d" stroke-width="1"/>
<rect x="423.5" y="934.5" width="12" height="35" fill="#3e1b24" stroke="#6e2a37" stroke-width="1"/>
<rect x="440.5" y="935.5" width="13" height="34" fill="#3e1b24" stroke="#6e2a37" stroke-width="1"/>
<rect x="458.5" y="891.5" width="13" height="78" fill="#3e1b24" stroke="#6e2a37" stroke-width="1"/>
<rect x="476.5" y="904.5" width="12" height="65" fill="#0b3526" stroke="#0f6b3d" stroke-width="1"/>
<rect x="494.5" y="938.5" width="12" height="31" fill="#3e1b24" stroke="#6e2a37" stroke-width="1"/>
<rect x="512.5" y="951.5" width="12" height="18" fill="#0b3526" stroke="#0f6b3d" stroke-width="1"/>
<rect x="529.5" y="944.5" width="13" height="25" fill="#3e1b24" stroke="#6e2a37" stroke-width="1"/>
<rect x="547.5" y="948.5" width="13" height="21" fill="#3e1b24" stroke="#6e2a37" stroke-width="1"/>
<rect x="565.5" y="940.5" width="12" height="29" fill="#3e1b24" stroke="#6e2a37" stroke-width="1"/>
<rect x="583.5" y="946.5" width="12" height="23" fill="#3e1b24" stroke="#6e2a37" stroke-width="1"/>
<rect x="601.5" y="948.5" width="12" height="21" fill="#0b3526" stroke="#0f6b3d" stroke-width="1"/>
<rect x="619.5" y="957.5" width="12" height="12" fill="#0b3526" stroke="#0f6b3d" stroke-width="1"/>
<rect x="636.5" y="952.5" width="13" height="17" fill="#3e1b24" stroke="#6e2a37" stroke-width="1"/>
<rect x="654.5" y="952.5" width="13" height="17" fill="#0b3526" stroke="#0f6b3d" stroke-width="1"/>
<rect x="672.5" y="952.5" width="12" height="17" fill="#3e1b24" stroke="#6e2a37" stroke-width="1"/>
<rect x="690.5" y="951.5" width="12" height="18" fill="#3e1b24" stroke="#6e2a37" stroke-width="1"/>
<rect x="708.5" y="953.5" width="12" height="16" fill="#0b3526" stroke="#0f6b3d" stroke-width="1"/>
<rect x="725.5" y="943.5" width="13" height="26" fill="#0b3526" stroke="#0f6b3d" stroke-width="1"/>
<rect x="743.5" y="960.5" width="13" height="9" fill="#3e1b24" stroke="#6e2a37" stroke-width="1"/>
<rect x="761.5" y="960.5" width="12" height="9" fill="#3e1b24" stroke="#6e2a37" stroke-width="1"/>
<rect x="779.5" y="937.5" width="12" height="32" fill="#3e1b24" stroke="#6e2a37" stroke-width="1"/>
<rect x="797.5" y="944.5" width="12" height="25" fill="#3e1b24" stroke="#6e2a37" stroke-width="1"/>
<rect x="814.5" y="935.5" width="13" height="34" fill="#0b3526" stroke="#0f6b3d" stroke-width="1"/>
<rect x="832.5" y="949.5" width="13" height="20" fill="#3e1b24" stroke="#6e2a37" stroke-width="1"/>
<rect x="850.5" y="946.5" width="13" height="23" fill="#3e1b24" stroke="#6e2a37" stroke-width="1"/>
<rect x="868.5" y="939.5" width="12" height="30" fill="#0b3526" stroke="#0f6b3d" stroke-width="1"/>
<rect x="886.5" y="944.5" width="12" height="25" fill="#3e1b24" stroke="#6e2a37" stroke-width="1"/>
<rect x="904.5" y="937.5" width="12" height="32" fill="#0b3526" stroke="#0f6b3d" stroke-width="1"/>
<rect x="921.5" y="940.5" width="13" height="29" fill="#3e1b24" stroke="#6e2a37" stroke-width="1"/>
<rect x="939.5" y="928.5" width="13" height="41" fill="#0b3526" stroke="#0f6b3d" stroke-width="1"/>
<rect x="957.5" y="943.5" width="12" height="26" fill="#3e1b24" stroke="#6e2a37" stroke-width="1"/>
<rect x="975.5" y="945.5" width="12" height="24" fill="#3e1b24" stroke="#6e2a37" stroke-width="1"/>
<rect x="993.5" y="959.5" width="12" height="10" fill="#3e1b24" stroke="#6e2a37" stroke-width="1"/>
<rect x="1010.5" y="952.5" width="13" height="17" fill="#3e1b24" stroke="#6e2a37" stroke-width="1"/>
<rect x="1028.5" y="942.5" width="13" height="27" fill="#0b3526" stroke="#0f6b3d" stroke-width="1"/>
<rect x="1046.5" y="939.5" width="13" height="30" fill="#0b3526" stroke="#0f6b3d" stroke-width="1"/>
<rect x="1064.5" y="947.5" width="12" height="22" fill="#0b3526" stroke="#0f6b3d" stroke-width="1"/>
<rect x="1082.5" y="948.5" width="12" height="21" fill="#0b3526" stroke="#0f6b3d" stroke-width="1"/>
<rect x="1100.5" y="934.5" width="12" height="35" fill="#0b3526" stroke="#0f6b3d" stroke-width="1"/>
<rect x="1117.5" y="962.5" width="13" height="7" fill="#3e1b24" stroke="#6e2a37" stroke-width="1"/>
<text x="25.3" y="893.1" font-size="12.3" font-weight="bold" fill="#7d8590">Vol</text>
<text x="125.5" y="985.2" font-size="11.5" fill="#7d8590" text-anchor="middle">Jan 17</text>
<text x="303.5" y="985.2" font-size="11.5" fill="#7d8590" text-anchor="middle">Jan 27</text>
<text x="481.5" y="985.2" font-size="11.5" fill="#7d8590" text-anchor="middle">Feb 06</text>
<text x="659.5" y="985.2" font-size="11.5" fill="#7d8590" text-anchor="middle">Feb 16</text>
<text x="838.5" y="985.2" font-size="11.5" fill="#7d8590" text-anchor="middle">Feb 26</text>
<text x="1016.5" y="985.2" font-size="11.5" fill="#7d8590" text-anchor="middle">Mar 08</text>
<text x="13.1" y="30.9" font-size="23.4" font-weight="bold" fill="#ffffff">BTC/USDT</text>
<text x="1170.6" y="30.7" font-size="19.9" font-weight="bold" fill="#ff4757" text-anchor="end" xml:space="preserve" style="white-space:pre">$70,718.80  ▼ -27.0%</text>
<text x="1259.8" y="1016.6" font-size="12.4" font-style="italic" fill="#8b949e" fill-opacity="0.18" text-anchor="end">cryance.com</text>
</svg>
</body></html>
